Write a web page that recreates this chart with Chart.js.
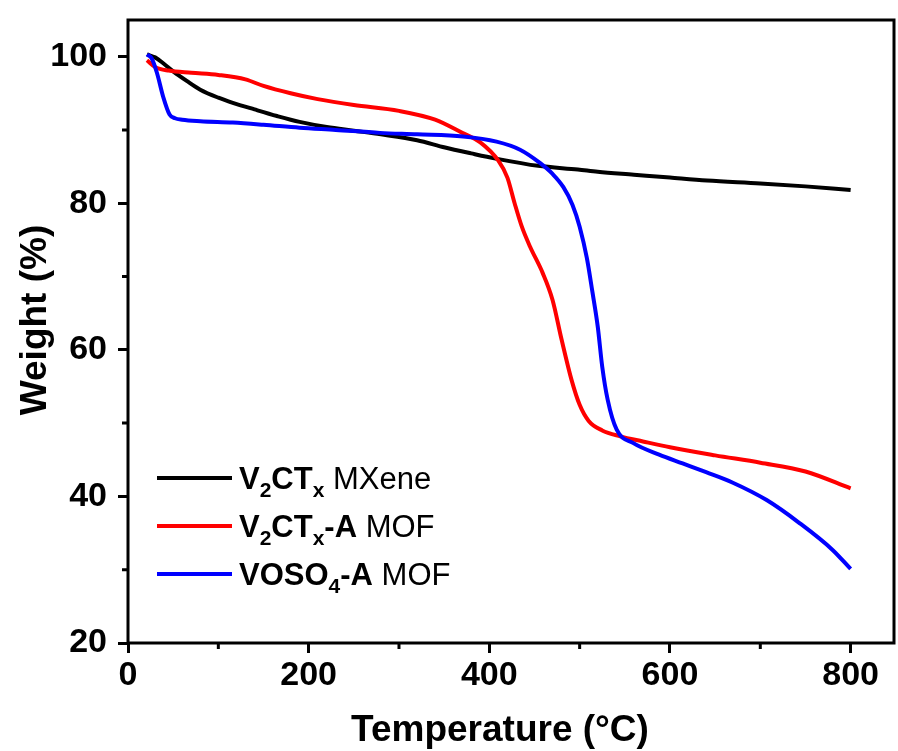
<!DOCTYPE html>
<html>
<head>
<meta charset="utf-8">
<title>TGA</title>
<script src="https://cdn.jsdelivr.net/npm/chart.js@4/dist/chart.umd.min.js"></script>
<style>
  html, body { margin: 0; padding: 0; background: #fff; }
  #wrap { width: 898px; height: 751px; }
</style>
</head>
<body>
<div id="wrap"><canvas id="chart" width="898" height="751"></canvas></div>
<script>
// V2CTx MXene
const mxeneTemp   = [21, 30, 40, 50, 65, 80, 100, 116, 140, 165, 190, 220, 250, 280, 320, 351, 380, 407, 454, 498, 520, 560, 600, 641, 700, 750, 800];
const mxeneWeight = [100.3, 99.9, 99.0, 98.0, 96.7, 95.5, 94.4, 93.7, 92.8, 91.9, 91.1, 90.4, 89.9, 89.4, 88.6, 87.6, 86.8, 86.1, 85.1, 84.6, 84.3, 83.9, 83.5, 83.1, 82.7, 82.3, 81.8];

// V2CTx-A MOF
const mofTemp   = [21, 30, 45, 70, 100, 130, 150, 180, 210, 250, 300, 340, 370, 390, 410, 420, 428, 436, 445, 459, 470, 480, 491, 500, 510, 525, 545, 570, 600, 650, 700, 750, 800];
const mofWeight = [99.5, 98.6, 98.1, 97.8, 97.5, 96.9, 96.0, 95.0, 94.2, 93.4, 92.6, 91.4, 89.6, 88.3, 85.8, 83.5, 80.0, 76.8, 74.1, 70.5, 66.8, 61.4, 55.9, 52.5, 50.3, 49.0, 48.2, 47.5, 46.7, 45.6, 44.6, 43.4, 41.1];

// VOSO4-A MOF
const vosoTemp   = [21, 26, 32, 39, 46, 52, 60, 80, 116, 150, 190, 230, 279, 320, 371, 408, 434, 456, 470, 482, 492, 500, 508, 514, 520, 525, 531, 541, 559, 588, 614, 640, 669, 707, 743, 780, 800];
const vosoWeight = [100.3, 99.8, 97.8, 94.5, 92.1, 91.6, 91.4, 91.2, 91.0, 90.7, 90.3, 90.0, 89.6, 89.4, 89.1, 88.4, 87.3, 85.5, 84.0, 82.2, 79.8, 76.8, 72.5, 68.0, 63.2, 57.7, 53.2, 49.1, 47.3, 45.7, 44.5, 43.3, 41.9, 39.5, 36.4, 32.7, 30.1];

const xTicks = [0, 200, 400, 600, 800];
const yTicks = [20, 40, 60, 80, 100];
const xMinor = [100, 300, 500, 700];
const yMinor = [30, 50, 70, 90];

const FONT = "'Liberation Sans', Arial, sans-serif";

function toPoints(xs, ys) {
    return xs.map((x, i) => ({ x: x, y: ys[i] }));
}

// legend text pieces: [text, bold, subscript]
const legendRows = [
    { color: '#000000', parts: [['V', 1, 0], ['2', 1, 1], ['CT', 1, 0], ['x', 1, 1], [' MXene', 0, 0]] },
    { color: '#ff0000', parts: [['V', 1, 0], ['2', 1, 1], ['CT', 1, 0], ['x', 1, 1], ['-A', 1, 0], [' MOF', 0, 0]] },
    { color: '#0000ff', parts: [['VOSO', 1, 0], ['4', 1, 1], ['-A', 1, 0], [' MOF', 0, 0]] }
];

const framePlugin = {
    id: 'frame',
    afterDraw(chart) {
        const ctx = chart.ctx;
        const a = chart.chartArea;
        const xs = chart.scales.x, ys = chart.scales.y;
        ctx.save();
        ctx.strokeStyle = '#000';
        ctx.lineWidth = 3;
        ctx.strokeRect(a.left, a.top, a.right - a.left, a.bottom - a.top);

        // minor ticks
        ctx.beginPath();
        xMinor.forEach(v => {
            const px = xs.getPixelForValue(v);
            ctx.moveTo(px, a.bottom);
            ctx.lineTo(px, a.bottom + 6);
        });
        yMinor.forEach(v => {
            const py = ys.getPixelForValue(v);
            ctx.moveTo(a.left - 6, py);
            ctx.lineTo(a.left, py);
        });
        ctx.stroke();

        // axis titles
        ctx.fillStyle = '#000';
        ctx.font = 'bold 37px ' + FONT;
        ctx.textAlign = 'center';
        ctx.textBaseline = 'alphabetic';
        ctx.fillText('Temperature (\u00B0C)', 500, 741);
        ctx.translate(46, 320);
        ctx.rotate(-Math.PI / 2);
        ctx.fillText('Weight (%)', 0, 0);
        ctx.restore();

        // legend
        ctx.save();
        ctx.textAlign = 'left';
        ctx.textBaseline = 'alphabetic';
        legendRows.forEach((row, i) => {
            const y = 478 + i * 48;
            ctx.strokeStyle = row.color;
            ctx.lineWidth = 4;
            ctx.beginPath();
            ctx.moveTo(157, y);
            ctx.lineTo(232, y);
            ctx.stroke();
            let x = 239;
            ctx.fillStyle = '#000';
            row.parts.forEach(p => {
                const sub = p[2];
                ctx.font = (p[1] ? 'bold ' : '') + (sub ? '21px ' : '31px ') + FONT;
                ctx.fillText(p[0], x, y + 11 + (sub ? 8 : 0));
                x += ctx.measureText(p[0]).width;
            });
        });
        ctx.restore();
    }
};

const ctx = document.getElementById('chart').getContext('2d');

const tickFont = { family: FONT, size: 34, weight: 'bold' };

new Chart(ctx, {
    type: 'line',
    data: {
        datasets: [
            {
                label: 'VOSO4-A MOF',
                data: toPoints(vosoTemp, vosoWeight),
                borderColor: '#0000ff',
                order: 1
            },
            {
                label: 'V2CTx-A MOF',
                data: toPoints(mofTemp, mofWeight),
                borderColor: '#ff0000',
                order: 2
            },
            {
                label: 'V2CTx MXene',
                data: toPoints(mxeneTemp, mxeneWeight),
                borderColor: '#000000',
                order: 3
            }
        ]
    },
    options: {
        responsive: false,
        animation: false,
        datasets: {
            line: {
                borderWidth: 4,
                pointRadius: 0,
                fill: false,
                cubicInterpolationMode: 'monotone'
            }
        },
        layout: { padding: { top: 20, right: 4, left: 0, bottom: 0 } },
        plugins: {
            legend: { display: false },
            tooltip: { enabled: false }
        },
        scales: {
            x: {
                type: 'linear',
                min: 0,
                max: 848,
                afterBuildTicks: s => { s.ticks = xTicks.map(v => ({ value: v })); },
                afterFit: s => { s.height = 108; s.paddingLeft = 0; s.paddingRight = 0; },
                border: { display: false },
                grid: {
                    drawOnChartArea: false,
                    drawTicks: true,
                    tickLength: 10,
                    tickWidth: 3,
                    tickColor: '#000'
                },
                ticks: {
                    color: '#000',
                    font: tickFont,
                    padding: 2,
                    maxRotation: 0
                }
            },
            y: {
                type: 'linear',
                min: 20,
                max: 105,
                afterBuildTicks: s => { s.ticks = yTicks.map(v => ({ value: v })); },
                afterFit: s => { s.width = 128; s.paddingTop = 0; s.paddingBottom = 0; },
                border: { display: false },
                grid: {
                    drawOnChartArea: false,
                    drawTicks: true,
                    tickLength: 10,
                    tickWidth: 3,
                    tickColor: '#000'
                },
                ticks: {
                    color: '#000',
                    font: tickFont,
                    padding: 11
                }
            }
        }
    },
    plugins: [framePlugin]
});
</script>
</body>
</html>
